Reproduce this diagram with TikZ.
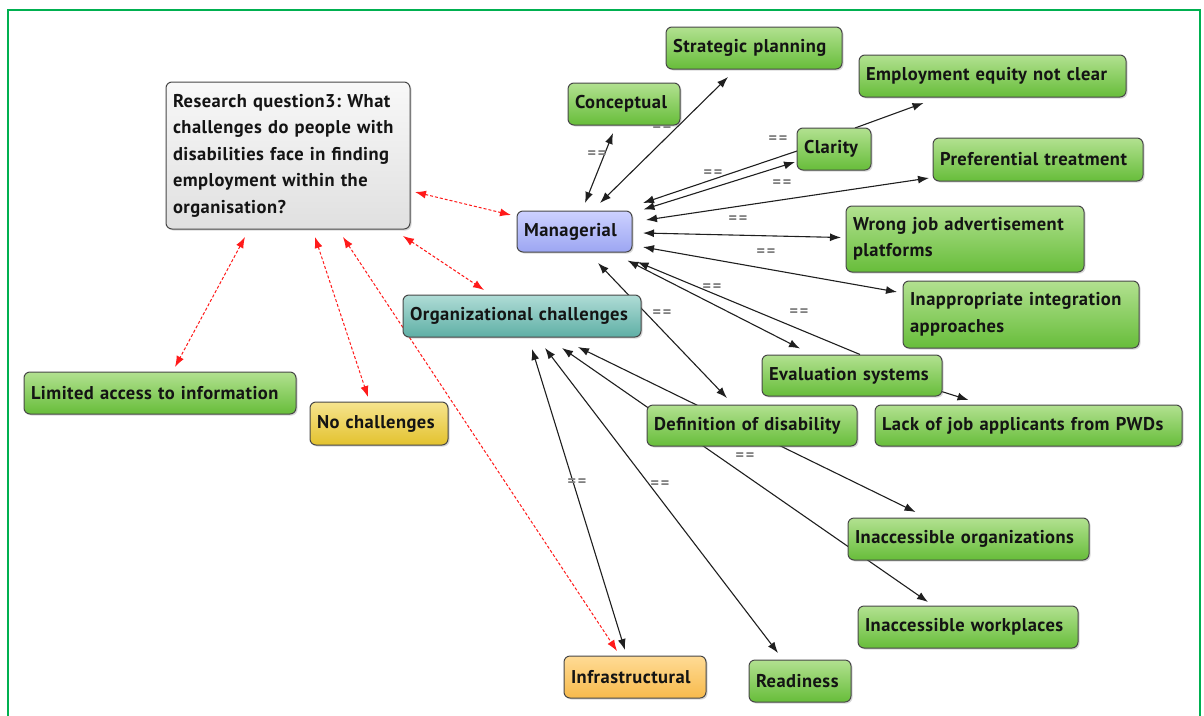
\documentclass[tikz,border=0pt]{standalone}
\usepackage{fontspec}
\newfontfamily\mapfont{PT Sans}[LetterSpace=2.5]
\newfontfamily\eqfont{PT Sans}[LetterSpace=12]
\usetikzlibrary{arrows.meta,calc,shadows}
\pgfdeclarelayer{links}
\pgfsetlayers{links,main}

\definecolor{frameGreen}{HTML}{00B050}
\definecolor{gTop}{HTML}{B2E190}
\definecolor{gBot}{HTML}{67BD3A}
\definecolor{bTop}{HTML}{CDD1FF}
\definecolor{bBot}{HTML}{9CA6F2}
\definecolor{tTop}{HTML}{B0DCD6}
\definecolor{tBot}{HTML}{5EAFA5}
\definecolor{qTop}{HTML}{F8F8F8}
\definecolor{qBot}{HTML}{E0E0E0}
\definecolor{yTop}{HTML}{F6E48E}
\definecolor{yBot}{HTML}{E3C22E}
\definecolor{oTop}{HTML}{FFDB95}
\definecolor{oBot}{HTML}{F7BA4C}
\definecolor{linkRed}{HTML}{FF1A1A}

\tikzset{
  concept/.style={draw=black!72, line width=1pt, rounded corners=6pt,
    inner xsep=7pt, inner ysep=3pt, align=left, text=black!92,
    font=\mapfont\bfseries\fontsize{18.5}{26.5}\selectfont\frenchspacing,
    drop shadow={shadow xshift=1.5pt, shadow yshift=-1.5pt, opacity=0.3}},
  cgreen/.style={concept, top color=gTop, bottom color=gBot},
  cblue/.style={concept, top color=bTop, bottom color=bBot},
  cteal/.style={concept, top color=tTop, bottom color=tBot},
  cgray/.style={concept, top color=qTop, bottom color=qBot},
  cyellow/.style={concept, top color=yTop, bottom color=yBot},
  corange/.style={concept, top color=oTop, bottom color=oBot},
  link/.style={draw=black!88, line width=1.1pt, >={Latex[length=11pt,width=8pt]}},
  qlink/.style={draw=linkRed, line width=1pt, dash pattern=on 3pt off 2pt,
    >={Latex[length=11pt,width=8pt]}},
  eqlab/.style={font=\eqfont\bfseries\fontsize{16}{16}\selectfont, text=black!50, inner sep=0pt}
}

\begin{document}
\begin{tikzpicture}[x=1pt,y=-1pt]
\useasboundingbox (0,0) rectangle (1204,715);

% open frame
\draw[frameGreen, line width=2pt] (7.5,720) -- (7.5,9.5) -- (1199.5,9.5) -- (1199.5,720);

% concepts
\node[cgray, text width=230pt, minimum height=147pt] (rq) at (288,155.5)
  {Research question3: What\\challenges do people with\\disabilities face in finding\\employment within the\\organisation?};
\node[cblue, text width=101pt, minimum height=41pt] (man) at (574.5,231.5) {Managerial};
\node[cteal, text width=224pt, minimum height=42pt] (org) at (522,316) {Organizational challenges};
\node[cgreen, text width=98pt, minimum height=42pt] (con) at (624,104) {Conceptual};
\node[cgreen, text width=162pt, minimum height=42pt] (str) at (754,48) {Strategic planning};
\node[cgreen, text width=253pt, minimum height=42pt] (emp) at (992.5,76) {Employment equity not clear};
\node[cgreen, text width=60pt, minimum height=42pt] (cla) at (834,149) {Clarity};
\node[cgreen, text width=196pt, minimum height=43pt] (pre) at (1038,159.5) {Preferential treatment};
\node[cgreen, text width=224pt, minimum height=66pt] (wro) at (965,239) {Wrong job advertisement\\platforms};
\node[cgreen, text width=222pt, minimum height=67pt] (ina) at (1021,314.5) {Inappropriate integration\\approaches};
\node[cgreen, text width=166pt, minimum height=41pt] (eva) at (852,375.5) {Evaluation systems};
\node[cgreen, text width=293pt, minimum height=41pt] (lac) at (1028.5,425.5) {Lack of job applicants from PWDs};
\node[cgreen, text width=196pt, minimum height=41pt] (def) at (752,425.5) {Definition of disability};
\node[cgreen, text width=227pt, minimum height=42pt] (iorg) at (968.5,539) {Inaccessible organizations};
\node[cgreen, text width=206pt, minimum height=42pt] (iwp) at (968,627) {Inaccessible workplaces};
\node[corange, text width=128pt, minimum height=42pt] (inf) at (635,677) {Infrastructural};
\node[cgreen, text width=88pt, minimum height=42pt] (rea) at (800,681) {Readiness};
\node[cgreen, text width=258pt, minimum height=42pt] (lim) at (160,393) {Limited access to information};
\node[cyellow, text width=124pt, minimum height=43pt] (noc) at (379,423.5) {No challenges};

\begin{pgfonlayer}{links}
% question links
\draw[qlink,<->] ($(rq)+(127,36.5)$) -- ($(man)+(-63.5,-16.5)$);
\draw[qlink,<->] ($(rq)+(115,80.5)$) -- ($(org)+(-38,-26)$);
\draw[qlink,<->] ($(rq)+(-43,81.5)$) -- ($(lim)+(15,-26)$);
\draw[qlink,<->] ($(rq)+(27,81.5)$) -- ($(noc)+(-11,-26.5)$);
\draw[qlink,<->] ($(rq)+(55,81.5)$) -- ($(inf)+(-18,-26)$);

% managerial links
\draw[link,<->] ($(man)+(10.5,-28.5)$) -- ($(con)+(-11,29)$);
\draw[link,<->] ($(man)+(25.5,-28.5)$) -- ($(str)+(-26,29)$);
\draw[link,->] ($(cla)+(-37,2)$) -- ($(man)+(68.5,-28.5)$);
\draw[link,<->] ($(man)+(69,-22)$) -- ($(cla)+(-39,13)$);
\draw[link,->] ($(cla)+(21,-21)$) -- ($(emp)+(-69,27)$);
\draw[link,<->] ($(man)+(71.5,-11.5)$) -- ($(pre)+(-109,18.5)$);
\draw[link,<->] ($(man)+(68.5,1.5)$) -- ($(wro)+(-124,-1.5)$);
\draw[link,<->] ($(man)+(68.5,15.5)$) -- ($(ina)+(-124,-22.5)$);
\draw[link,<->] ($(man)+(53,29)$) -- ($(eva)+(-52,-27)$);
\draw[link,->] ($(eva)+(8,-21)$) -- ($(man)+(63,30.5)$);
\draw[link,->] ($(eva)+(88,15.5)$) -- ($(lac)+(-60,-25.5)$);
\draw[link,<->] ($(man)+(23.5,31.5)$) -- ($(def)+(-25,-27.5)$);

% organizational links
\draw[link,<->] ($(org)+(40,32)$) -- ($(iwp)+(-40,-25)$);
\draw[link,<->] ($(org)+(56,31)$) -- ($(iorg)+(-53,-27)$);
\draw[link,<->] ($(org)+(10,33)$) -- ($(inf)+(-10,-27)$);
\draw[link,<->] ($(org)+(23,32)$) -- ($(rea)+(-22,-28)$);

% linking phrases
\node[eqlab] (l1) at (597,155) {==};
\node[eqlab] (l2) at (662,128) {==};
\node[eqlab] (l3) at (778,140) {==};
\node[eqlab] (l4) at (713,174) {==};
\node[eqlab] (l5) at (782,184) {==};
\node[eqlab] (l6) at (738,220) {==};
\node[eqlab] (l7) at (766,253) {==};
\node[eqlab] (l8) at (712,288) {==};
\node[eqlab] (l9) at (799,313) {==};
\node[eqlab] (l10) at (662,314) {==};
\node[eqlab] (l11) at (745,457) {==};
\node[eqlab] (l12) at (577,483) {==};
\node[eqlab] (l13) at (660,485) {==};
\end{pgfonlayer}
\end{tikzpicture}
\end{document}
